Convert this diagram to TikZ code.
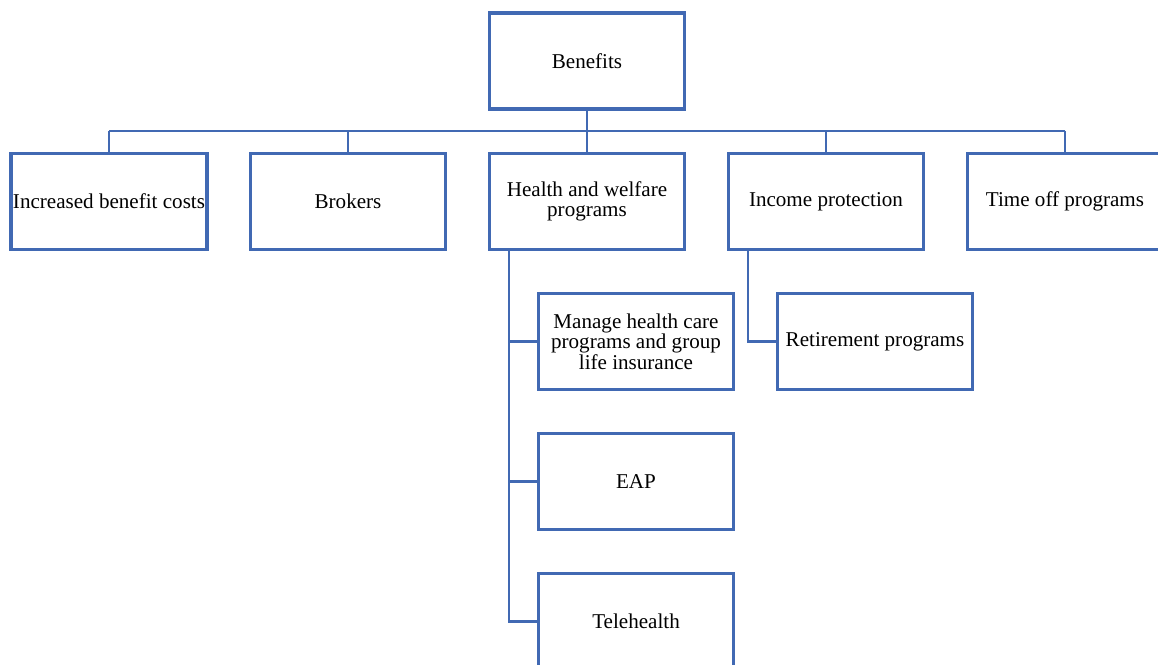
\documentclass[tikz,border=0pt]{standalone}
\usepackage{fontspec}
\setmainfont{Liberation Serif}
\usetikzlibrary{calc}
\usetikzlibrary{positioning}
\definecolor{boxblue}{HTML}{4169B3}
\tikzset{
 box/.style={draw=boxblue, line width=2pt, fill=white, minimum width=3.9cm, minimum height=1.92cm, inner sep=1pt, align=center, font=\fontsize{12}{11.7}\selectfont},
 link/.style={draw=boxblue, line width=1.4pt}
}

\begin{document}
\begin{tikzpicture} [x=0.02cm, y=-0.02cm]
\path[use as bounding box, clip] (0,0) rectangle (1158,665);
\fill[white] (0,0) rectangle (1158,665);
\coordinate (bus) at (587,131);
\coordinate (hwtrunk) at (509,251);
\coordinate (iptrunk) at (748,251);
\node[box] (ben) at (587,61) {Benefits};
\node[box] (inc) at (109,201.5) {Increased benefit costs};
\node[box] (brk) at (348,201.5) {Brokers};
\node[box] (hw) at (587,201.5) {Health and welfare\\programs};
\node[box] (ip) at (826,201.5) {Income protection};
\node[box] (tof) at (1065,201.5) {Time off programs};
\node[box] (mgmt) at (636,341.5) {Manage health care\\programs and group\\life insurance};
\node[box] (eap) at (636,481.5) {EAP};
\node[box] (tele) at (636,621.5) {Telehealth};
\node[box] (ret) at (875,341.5) {Retirement programs};
\draw[link] (ben.south) -- (bus);
\draw[link] (bus -| inc.north) -- (bus -| tof.north);
\foreach \n in {inc, brk, hw, ip, tof} {
 \draw[link] (bus -| \n.north) -- (\n.north);
}
\draw[link] (hwtrunk) |- (tele.west);
\foreach \n in {mgmt, eap} {
 \draw[link] (hwtrunk |- \n.west) -- (\n.west);
}
\draw[link] (iptrunk) |- (ret.west);
\end{tikzpicture}
\end{document}
